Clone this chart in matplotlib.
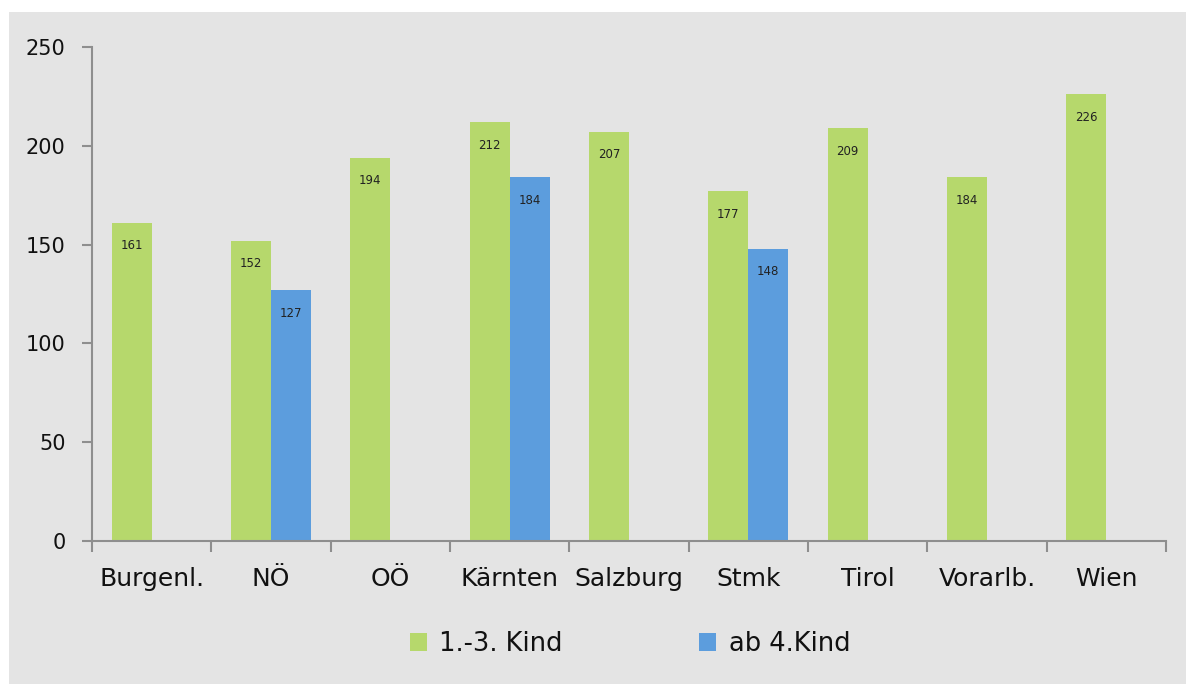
import numpy as np
import matplotlib.pyplot as plt
from matplotlib.patches import Rectangle

# data
regions = ['Burgenl.', 'NÖ', 'OÖ', 'Kärnten', 'Salzburg', 'Stmk', 'Tirol', 'Vorarlb.', 'Wien']
kind_1_3 = [161, 152, 194, 212, 207, 177, 209, 184, 226]
kind_ab_4 = [np.nan, 127, np.nan, 184, np.nan, 148, np.nan, np.nan, np.nan]
series_names = ['1.-3. Kind', 'ab 4.Kind']

green = '#b6d86c'
blue = '#5c9ddd'
bg = '#e4e4e4'
spine = '#8e8e8e'

fig = plt.figure(figsize=(11.86, 6.84), dpi=100)
fig.patch.set_facecolor('white')
fig.patches.append(Rectangle((9 / 1186, 0), 1, 1 - 12 / 684, transform=fig.transFigure,
                             facecolor=bg, edgecolor='none', zorder=-10))

ax = fig.add_axes([92 / 1186, 1 - 541 / 684, (1166 - 92) / 1186, (541 - 47) / 684])
ax.set_facecolor('none')

x = np.arange(len(regions))
w = 0.335
b1 = ax.bar(x - w / 2, kind_1_3, w, color=green, label=series_names[0], zorder=2)
b2 = ax.bar(x + w / 2, kind_ab_4, w, color=blue, label=series_names[1], zorder=2)

# value labels inside the bars near the top
for bars, vals in ((b1, kind_1_3), (b2, kind_ab_4)):
    for rect, v in zip(bars, vals):
        if np.isnan(v):
            continue
        ax.annotate(f'{int(v)}', (rect.get_x() + rect.get_width() / 2, v),
                    xytext=(0, -23), textcoords='offset pixels',
                    ha='center', va='center', fontsize=8.5, color='#222222', zorder=3)

ax.set_xlim(-0.5, len(regions) - 0.5)
ax.set_ylim(0, 250)
ax.set_yticks(range(0, 251, 50))

# category boundaries as ticks on the x axis
ax.set_xticks(np.arange(-0.5, len(regions), 1.0))
ax.set_xticklabels([])
ax.set_xticks(x, minor=True)
ax.set_xticklabels(regions, minor=True, fontsize=18, color='#111111')
ax.tick_params(axis='x', which='minor', length=0, pad=19)
ax.tick_params(axis='x', which='major', length=8, width=1.5, color=spine, direction='out')
ax.tick_params(axis='y', length=7, width=1.5, color=spine, labelsize=15, labelcolor='#111111', pad=12)

for s in ('top', 'right'):
    ax.spines[s].set_visible(False)
for s in ('left', 'bottom'):
    ax.spines[s].set_color(spine)
    ax.spines[s].set_linewidth(1.5)

leg = fig.legend(handles=[b1, b2], labels=series_names, loc='center', ncol=2,
                 bbox_to_anchor=(630 / 1186, 1 - 644 / 684), frameon=False,
                 fontsize=18.5, handlelength=0.65, handleheight=0.65, handletextpad=0.5,
                 columnspacing=5.3)
for t in leg.get_texts():
    t.set_color('#111111')

fig.savefig('out.png', dpi=100, facecolor=fig.get_facecolor())
